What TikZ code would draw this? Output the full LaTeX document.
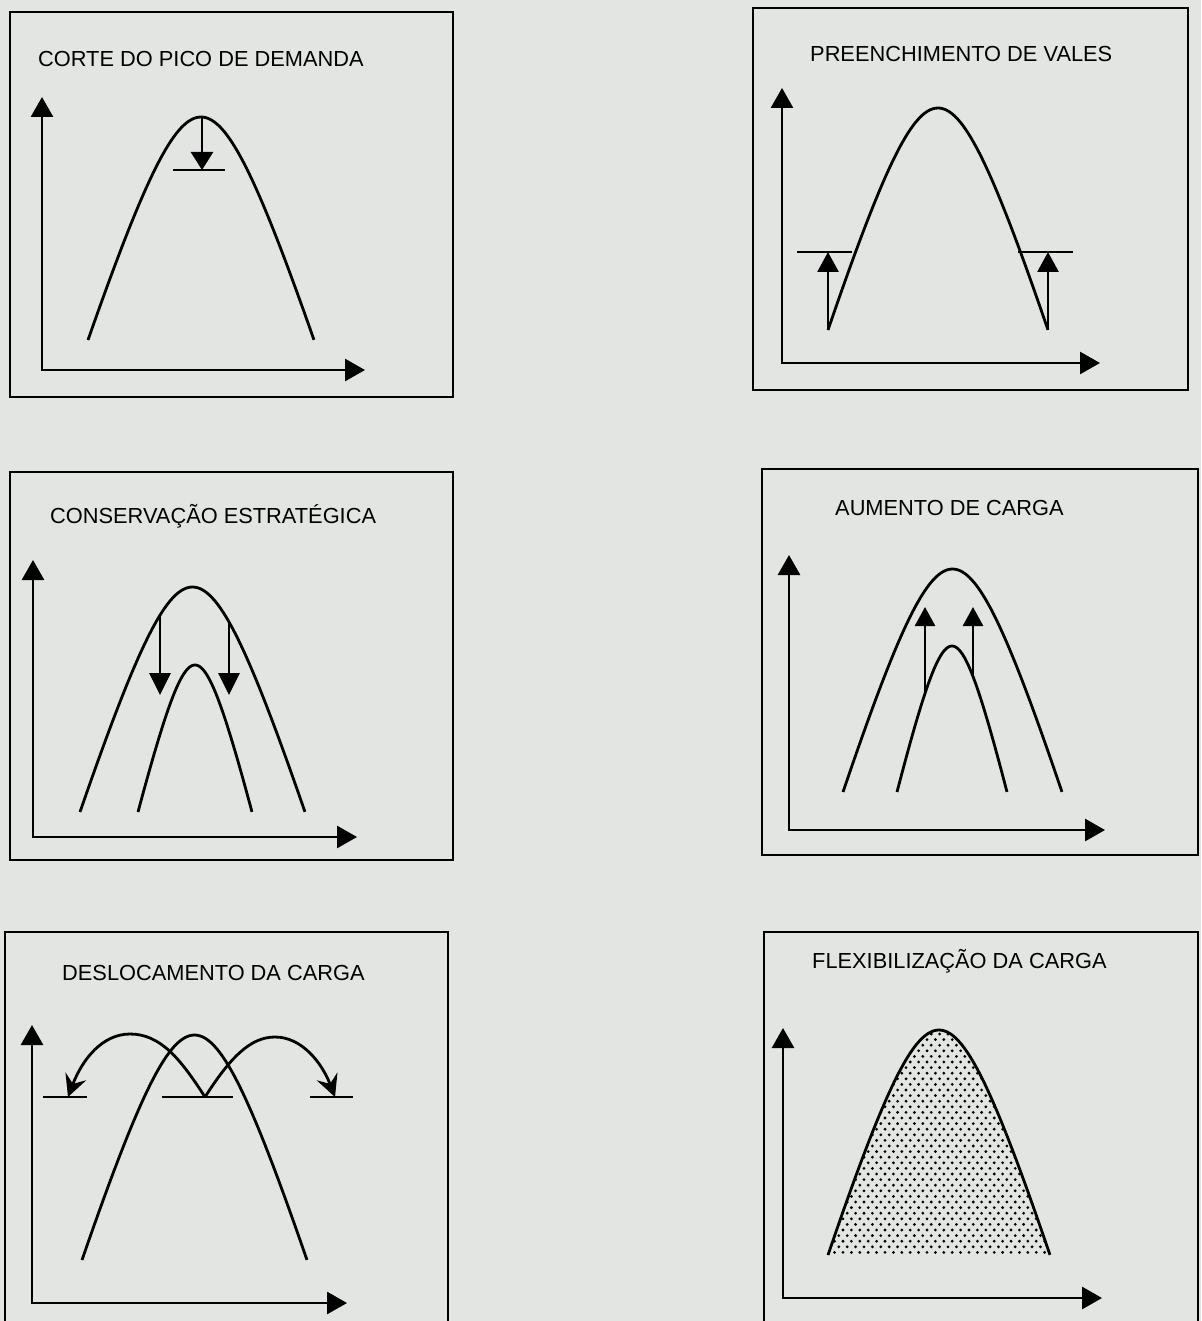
\documentclass[tikz,border=0pt]{standalone}
\usepackage{fontspec}
\setmainfont{Liberation Sans}
\usetikzlibrary{arrows.meta}
\definecolor{paper}{RGB}{226,229,225}
\newcommand\bumpplot[4]{plot[domain=-1:1,samples=81,smooth] ({#1+#2*\x},{#3+#4*(sqrt(\x*\x+0.25)-0.5)/0.618034})}
\begin{document}
\begin{tikzpicture}[x=1pt,y=-1pt,
  frame/.style={draw=black,line width=2.3pt},
  ink/.style={draw=black,line width=2.8pt},
  axes/.style={ink,{Triangle[length=20pt,width=22pt]}-{Triangle[length=20pt,width=22pt]}},
  title/.style={anchor=base west,inner sep=0pt,font=\fontsize{21.8}{26}\selectfont},
  uparrow/.style={ink,-{Triangle[length=20pt,width=21pt]}},
  arcarrow/.style={ink,-{Stealth[length=22pt,width=22pt,inset=8pt]}}]
\fill[paper] (0,0) rectangle (1201,1321);
\useasboundingbox (0,0) rectangle (1201,1321);
\clip (0,0) rectangle (1201,1321);

% ---------- Panel 1: CORTE DO PICO DE DEMANDA
\draw[frame] (10,12) rectangle (453,397);
\node[title] (t1) at (38,67) {CORTE DO PICO DE DEMANDA};
\draw[axes] (42,97) -- (42,370) -- (365,370);
\draw[ink] \bumpplot{201}{113}{117}{223};
\coordinate (p1a) at (202,117);
\coordinate (p1b) at (202,170);
\draw[uparrow,-{Triangle[length=18pt,width=22pt]}] (p1a) -- (p1b);
\coordinate (l1a) at (173,170); \coordinate (l1b) at (225,170);
\draw[ink] (l1a) -- (l1b);

% ---------- Panel 2: PREENCHIMENTO DE VALES
\draw[frame] (753,8) rectangle (1188,390);
\node[title] (t2) at (810,62) {PREENCHIMENTO DE VALES};
\draw[axes] (782,88) -- (782,363) -- (1100,363);
\draw[ink] \bumpplot{938}{110}{108}{222};
\coordinate (l2a) at (797,252); \coordinate (l2b) at (852,252);
\coordinate (l2c) at (1018,252); \coordinate (l2d) at (1073,252);
\draw[ink] (l2a) -- (l2b);
\draw[ink] (l2c) -- (l2d);
\coordinate (a2s) at (828,330); \coordinate (a2e) at (828,252);
\coordinate (b2s) at (1048,330); \coordinate (b2e) at (1048,252);
\draw[uparrow] (a2s) -- (a2e);
\draw[uparrow] (b2s) -- (b2e);

% ---------- Panel 3: CONSERVACAO ESTRATEGICA
\draw[frame] (10,472) rectangle (453,860);
\node[title] (t3) at (50,523) {CONSERVAÇÃO ESTRATÉGICA};
\draw[axes] (33,560) -- (33,837) -- (357,837);
\draw[ink] \bumpplot{192.5}{112.5}{587}{225};
\draw[ink] \bumpplot{195}{57}{665}{147};
\coordinate (a3s) at (160,615); \coordinate (a3e) at (160,695);
\coordinate (b3s) at (229,622); \coordinate (b3e) at (229,695);
\draw[uparrow,-{Triangle[length=22pt,width=21pt]}] (a3s) -- (a3e);
\draw[uparrow,-{Triangle[length=22pt,width=21pt]}] (b3s) -- (b3e);

% ---------- Panel 4: AUMENTO DE CARGA
\draw[frame] (762,469) rectangle (1198,855);
\node[title] (t4) at (835,515) {AUMENTO DE CARGA};
\draw[axes] (789,555) -- (789,830) -- (1105,830);
\draw[ink] \bumpplot{952.5}{109.5}{569}{223};
\draw[ink] \bumpplot{952}{55}{646}{146};
\coordinate (a4s) at (925,693); \coordinate (a4e) at (925,607);
\coordinate (b4s) at (973,677); \coordinate (b4e) at (973,607);
\draw[uparrow,-{Triangle[length=19pt,width=20pt]}] (a4s) -- (a4e);
\draw[uparrow,-{Triangle[length=19pt,width=20pt]}] (b4s) -- (b4e);

% ---------- Panel 5: DESLOCAMENTO DA CARGA
\draw[frame] (5,932) rectangle (448,1345);
\node[title] (t5) at (62,980) {DESLOCAMENTO DA CARGA};
\draw[axes] (32,1025) -- (32,1303) -- (347,1303);
\draw[ink] \bumpplot{194.5}{112.5}{1035}{225};
\coordinate (l5a) at (43,1097); \coordinate (l5b) at (87,1097);
\coordinate (l5c) at (162,1097); \coordinate (l5d) at (233,1097);
\coordinate (l5e) at (310,1097); \coordinate (l5f) at (353,1097);
\draw[ink] (l5a) -- (l5b);
\draw[ink] (l5c) -- (l5d);
\draw[ink] (l5e) -- (l5f);
\coordinate (src5) at (205,1097);
\coordinate (dl5) at (68,1097);
\coordinate (dr5) at (335,1097);
\draw[arcarrow] (src5) .. controls (180,1058) and (160,1034) .. (130,1034)
  .. controls (102,1034) and (82,1060) .. (dl5);
\draw[arcarrow] (src5) .. controls (230,1058) and (250,1037) .. (275,1037)
  .. controls (302,1037) and (322,1063) .. (dr5);

% ---------- Panel 6: FLEXIBILIZACAO DA CARGA
\draw[frame] (764,932) rectangle (1198,1345);
\node[title] (t6) at (812,968) {FLEXIBILIZAÇÃO DA CARGA};
\draw[axes] (783,1028) -- (783,1298) -- (1102,1298);
\begin{scope}
  \clip \bumpplot{939}{111}{1030}{225} -- cycle;
  \foreach \r in {0,...,40}{
    \foreach \c in {0,...,28}{
      \fill ({822+\c*8.4+mod(\r,2)*4.2},{1034+\r*5.6}) circle (1.55);
    }
  }
\end{scope}
\draw[ink] \bumpplot{939}{111}{1030}{225};
\end{tikzpicture}
\end{document}
